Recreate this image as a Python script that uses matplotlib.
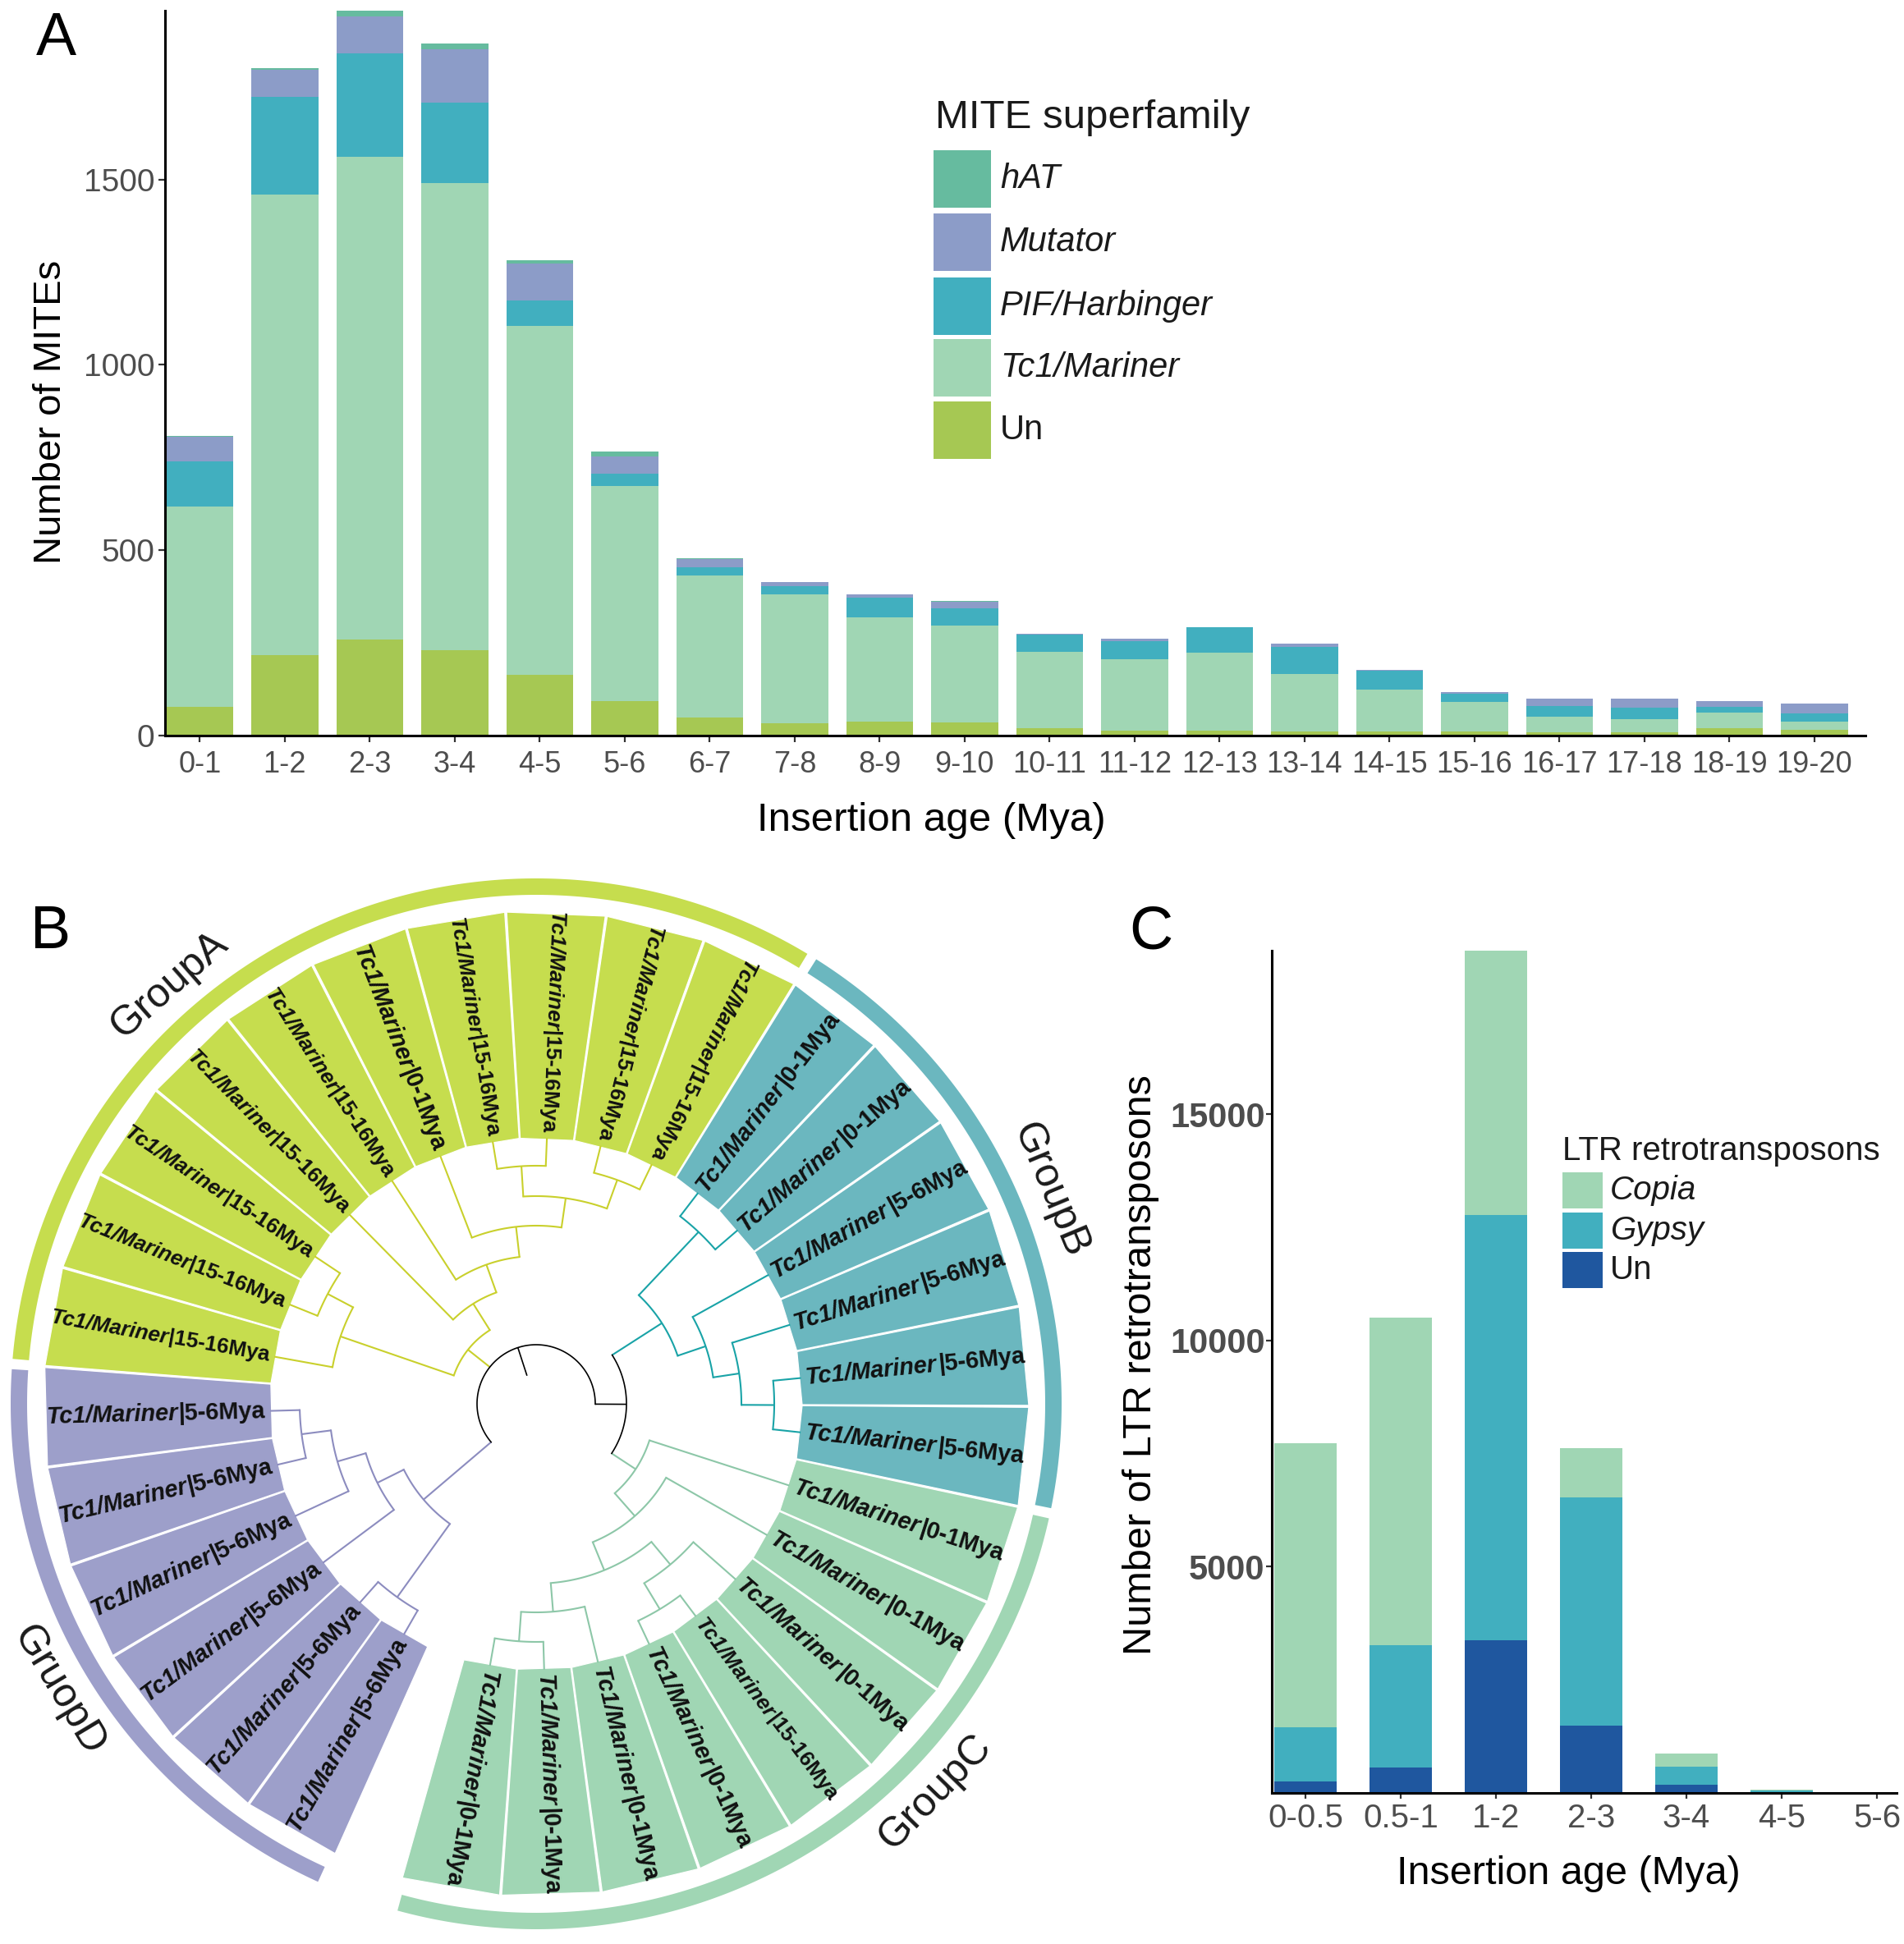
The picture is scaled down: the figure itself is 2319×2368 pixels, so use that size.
import numpy as np
import matplotlib
matplotlib.use("Agg")
import matplotlib.pyplot as plt
from matplotlib.patches import Polygon, Rectangle
from matplotlib.textpath import TextPath
from matplotlib.font_manager import FontProperties

W, H, DPI = 2319, 2368, 100
plt.rcParams['font.family'] = ['Liberation Sans', 'DejaVu Sans']

# ---------------- Panel A: MITE insertion ages ----------------
age_a = ['0-1', '1-2', '2-3', '3-4', '4-5', '5-6', '6-7', '7-8', '8-9', '9-10',
         '10-11', '11-12', '12-13', '13-14', '14-15', '15-16', '16-17', '17-18',
         '18-19', '19-20']
un_a = [78, 217, 260, 231, 164, 92, 48, 34, 37, 35, 21, 14, 14, 11, 11, 11, 8, 8, 21, 16]
tc1_a = [540, 1241, 1302, 1258, 941, 581, 384, 347, 281, 261, 205, 193, 209, 155, 113,
         79, 43, 37, 41, 22]
pif_a = [122, 264, 278, 217, 68, 33, 22, 21, 55, 47, 46, 47, 69, 74, 50, 23, 29, 31, 16, 21]
mut_a = [67, 73, 100, 145, 100, 46, 23, 13, 8, 17, 3, 7, 1, 7, 4, 4, 20, 23, 14, 27]
hat_a = [2, 4, 15, 16, 8, 13, 1, 0, 0, 3, 0, 0, 0, 0, 0, 0, 0, 0, 0, 0]
mite_names = ['hAT', 'Mutator', 'PIF/Harbinger', 'Tc1/Mariner', 'Un']

# ---------------- Panel C: LTR insertion ages ----------------
age_c = ['0-0.5', '0.5-1', '1-2', '2-3', '3-4', '4-5', '5-6']
un_c = [260, 560, 3380, 1490, 183, 20, 0]
gypsy_c = [1190, 2700, 9395, 5040, 396, 30, 3]
copia_c = [6280, 7245, 5830, 1080, 289, 30, 5]
ltr_names = ['Copia', 'Gypsy', 'Un']

# ---------------- Panel B: tree tips (counter-clockwise order) ----------------
groupC_ages = ['0-1Mya', '0-1Mya', '0-1Mya', '0-1Mya', '15-16Mya', '0-1Mya', '0-1Mya', '0-1Mya']
groupB_ages = ['5-6Mya', '5-6Mya', '5-6Mya', '5-6Mya', '0-1Mya', '0-1Mya']
groupA_ages = ['15-16Mya', '15-16Mya', '15-16Mya', '15-16Mya', '0-1Mya',
               '15-16Mya', '15-16Mya', '15-16Mya', '15-16Mya', '15-16Mya']
groupD_ages = ['5-6Mya'] * 6
group_names = {'A': 'GroupA', 'B': 'GroupB', 'C': 'GroupC', 'D': 'GruopD'}

# colours
c_hat, c_mut, c_pif, c_tc1, c_un_a = '#66BB9F', '#8C9CC8', '#41AFBF', '#A0D6B4', '#A6C853'
c_copia, c_gypsy, c_un_c = '#A0D6B4', '#41AFBF', '#1F579F'
wedge_col = {'A': '#C6DD4E', 'B': '#6BB7BF', 'C': '#A0D6B4', 'D': '#9D9FCA'}
line_col = {'A': '#C9D02C', 'B': '#19A3A7', 'C': '#8DC7A8', 'D': '#8C8CBF'}
TICK_GRAY = '#4D4D4D'


def fbox(x0, y0, x1, y1):
    """pixel box (y down) -> figure rect"""
    return [x0 / W, 1 - y1 / H, (x1 - x0) / W, (y1 - y0) / H]


fig = plt.figure(figsize=(W / DPI, H / DPI), dpi=DPI)

# overlay in pixel coordinates for the tree, legends and free text
ov = fig.add_axes([0, 0, 1, 1])
ov.set_xlim(0, W)
ov.set_ylim(H, 0)
ov.axis('off')

# ---------------- Panel A ----------------
ax_a = fig.add_axes(fbox(201, 13, 2272, 896))
ax_a.set_facecolor('none')
x_a = np.arange(len(age_a))
bottom = np.zeros(len(age_a))
for vals, col in [(un_a, c_un_a), (tc1_a, c_tc1), (pif_a, c_pif), (mut_a, c_mut), (hat_a, c_hat)]:
    ax_a.bar(x_a, vals, bottom=bottom, width=0.79, color=col, linewidth=0)
    bottom += np.array(vals)
ax_a.set_xlim(-0.41, 19.6)
ax_a.set_ylim(0, 1955)
ax_a.set_yticks([0, 500, 1000, 1500])
ax_a.set_xticks(x_a)
ax_a.set_xticklabels(age_a)
for s in ['top', 'right']:
    ax_a.spines[s].set_visible(False)
for s in ['left', 'bottom']:
    ax_a.spines[s].set_linewidth(2.2)
ax_a.tick_params(axis='both', length=6, width=1.6, color='#333333',
                 labelcolor=TICK_GRAY, labelsize=28, pad=3)
ax_a.tick_params(axis='x', labelsize=26, pad=7)

ov.text(62, 502, 'Number of MITEs', rotation=90, ha='center', va='center', fontsize=34)
ov.text(1134, 1012, 'Insertion age (Mya)', ha='center', va='baseline', fontsize=35.5)

# legend A
ov.text(1139, 156, 'MITE superfamily', fontsize=35.5, va='baseline', color='#1a1a1a')
key_tops = [183, 260, 338, 413, 489]
for name, col, yt in zip(mite_names, [c_hat, c_mut, c_pif, c_tc1, c_un_a], key_tops):
    ov.add_patch(Rectangle((1137, yt), 70, 70, facecolor=col, edgecolor='none'))
    ov.text(1218, yt + 35, name, fontsize=30, va='center', color='#1a1a1a',
            style='normal' if name == 'Un' else 'italic')

# ---------------- Panel C ----------------
ax_c = fig.add_axes(fbox(1549, 1158, 2310, 2184))
ax_c.set_facecolor('none')
x_c = np.arange(len(age_c))
bottom = np.zeros(len(age_c))
for vals, col in [(un_c, c_un_c), (gypsy_c, c_gypsy), (copia_c, c_copia)]:
    ax_c.bar(x_c, vals, bottom=bottom, width=0.655, color=col, linewidth=0)
    bottom += np.array(vals)
ax_c.set_xlim(-0.353, 6.207)
ax_c.set_ylim(0, 18610)
ax_c.set_yticks([5000, 10000, 15000])
ax_c.set_xticks(x_c)
ax_c.set_xticklabels(age_c)
for s in ['top', 'right']:
    ax_c.spines[s].set_visible(False)
for s in ['left', 'bottom']:
    ax_c.spines[s].set_linewidth(2.2)
ax_c.tick_params(axis='both', length=5, width=1.6, color='#333333',
                 labelcolor=TICK_GRAY, labelsize=29, pad=4)
ax_c.tick_params(axis='y', labelsize=30, pad=1)
for t in ax_c.get_yticklabels():
    t.set_fontweight('bold')

ov.text(1390, 1663, 'Number of LTR retrotransposons', rotation=90, ha='center',
        va='center', fontsize=35)
ov.text(1910, 2295, 'Insertion age (Mya)', ha='center', va='baseline', fontsize=35)

ov.text(1903, 1413, 'LTR retrotransposons', fontsize=29, va='baseline', color='#1a1a1a')
for name, col, yt in zip(ltr_names, [c_copia, c_gypsy, c_un_c], [1428, 1477, 1525]):
    ov.add_patch(Rectangle((1903, yt), 49, 44, facecolor=col, edgecolor='none'))
    ov.text(1961, yt + 22, name, fontsize=29, va='center', color='#1a1a1a',
            style='normal' if name == 'Un' else 'italic')

# ---------------- Panel B: circular tree ----------------
CX, CY = 653, 1710
THETA0, STEP, HALF = -100.0, 11.73, 5.75
R_TIP, R_IN, R_OUT = 324, 324, 600
R_RING0, R_RING1 = 620, 640
R_LAB = 330

tip_ids = ([f'C{i}' for i in range(8)] + [f'B{i}' for i in range(6)] +
           [f'A{i}' for i in range(10)] + [f'D{i}' for i in range(6)])
tip_ages = groupC_ages + groupB_ages + groupA_ages + groupD_ages
tip_index = {t: k for k, t in enumerate(tip_ids)}


def nd(r, *children):
    return (r, children)


# node radius (px from centre) and children
tree = nd(72,
          nd(106,
             nd(252, nd(287, 'A7', 'A8'), 'A9'),
             nd(144, 'A6',
                nd(180, 'A5',
                   nd(217, 'A4',
                      nd(253, nd(290, 'A2', 'A3'), nd(290, 'A0', 'A1')))))),
          nd(180,
             nd(216, nd(252, nd(288, 'D0', 'D1'), 'D2'), 'D3'),
             nd(290, 'D4', 'D5')),
          nd(110,
             nd(182, nd(288, 'B4', 'B5'),
                nd(218, 'B3', nd(250, 'B2', nd(290, 'B0', 'B1')))),
             nd(145, 'C7',
                nd(182, 'C6',
                   nd(219, nd(255, 'C5', nd(292, 'C3', 'C4')),
                      nd(254, 'C2', nd(290, 'C0', 'C1')))))))


def pt(r, th):
    t = np.deg2rad(th)
    return CX + r * np.cos(t), CY - r * np.sin(t)


def tip_angle(k):
    return THETA0 + STEP * k


def groups_of(n):
    if isinstance(n, str):
        return {n[0]}
    out = set()
    for ch in n[1]:
        out |= groups_of(ch)
    return out


def radial(r0, r1, th, col, lw=1.5):
    (x0, y0), (x1, y1) = pt(r0, th), pt(r1, th)
    ov.plot([x0, x1], [y0, y1], color=col, lw=lw, solid_capstyle='butt', zorder=3)


def arc(r, a0, a1, col, lw=1.5):
    a = np.linspace(a0, a1, 120)
    xs, ys = pt(r, a)
    ov.plot(xs, ys, color=col, lw=lw, zorder=3)


def draw(n, parent_r):
    if isinstance(n, str):
        th = tip_angle(tip_index[n])
        radial(parent_r, R_TIP, th, line_col[n[0]])
        return th
    r, children = n
    angs = [draw(ch, r) for ch in children]
    th = float(np.mean(angs))
    g = groups_of(n)
    col = line_col[g.pop()] if len(g) == 1 else 'black'
    lw = 1.5 if col != 'black' else 1.2
    arc(r, min(angs), max(angs), col, lw)
    if parent_r is not None:
        radial(parent_r, r, th, col, lw)
    return th


draw(tree, None)
radial(36, 72, 108, 'black', 1.2)  # root edge

# tip wedges
for k, tid in enumerate(tip_ids):
    th = tip_angle(k)
    pts = [pt(R_IN, th - HALF), pt(R_OUT, th - HALF), pt(R_OUT, th + HALF), pt(R_IN, th + HALF)]
    ov.add_patch(Polygon(pts, closed=True, facecolor=wedge_col[tid[0]],
                         edgecolor='white', lw=0.9, zorder=1))

# group rings and names
label_pos = {'A': (131.2, 678, 41.2), 'B': (22.6, 678, -67.4),
             'C': (-44.2, 678, 45.8), 'D': (211.0, 678, -59.0)}
for g in 'CBAD':
    ks = [k for k, t in enumerate(tip_ids) if t[0] == g]
    a0, a1 = tip_angle(ks[0]) - HALF + 0.45, tip_angle(ks[-1]) + HALF - 0.45
    a = np.linspace(a0, a1, 200)
    outer = np.column_stack(pt(R_RING1, a))
    inner = np.column_stack(pt(R_RING0, a[::-1]))
    ov.add_patch(Polygon(np.vstack([outer, inner]), closed=True,
                         facecolor=wedge_col[g], edgecolor='none', zorder=1))
    th, r, rot = label_pos[g]
    x, y = pt(r, th)
    ov.text(x, y, group_names[g], rotation=rot, ha='center', va='center',
            fontsize=36, rotation_mode='anchor', color='#1a1a1a')

# tip labels: italic genus part + upright age part
fp_it = FontProperties(family='Liberation Sans', weight='bold', style='italic')
fp_bd = FontProperties(family='Liberation Sans', weight='bold')


def text_w(s, fp, size):
    tp = TextPath((0, 0), s, size=size, prop=fp)
    return tp.get_extents().width * DPI / 72.0


for k, age in enumerate(tip_ages):
    th = tip_angle(k)
    fs = 18.8 if age.startswith('15') else 20.8
    p1, p2 = 'Tc1/Mariner', '|' + age
    w1, w2 = text_w(p1, fp_it, fs), text_w(p2, fp_bd, fs)
    flip = 58 < th < 250
    kw = dict(va='center', rotation_mode='anchor', color='#111111', zorder=4)
    if not flip:
        x, y = pt(R_LAB, th)
        ov.text(x, y, p1, rotation=th, ha='left', fontproperties=fp_it, fontsize=fs, **kw)
        x, y = pt(R_LAB + w1 + 2, th)
        ov.text(x, y, p2, rotation=th, ha='left', fontproperties=fp_bd, fontsize=fs, **kw)
    else:
        rot = th - 180
        x, y = pt(R_LAB, th)
        ov.text(x, y, p2, rotation=rot, ha='right', fontproperties=fp_bd, fontsize=fs, **kw)
        x, y = pt(R_LAB + w2 + 2, th)
        ov.text(x, y, p1, rotation=rot, ha='right', fontproperties=fp_it, fontsize=fs, **kw)

# panel letters
for letter, (x, y) in {'A': (44, 67), 'B': (37, 1155), 'C': (1375, 1155)}.items():
    ov.text(x, y, letter, fontsize=53, va='baseline', ha='left', color='black')

fig.savefig('out.png', dpi=DPI)
